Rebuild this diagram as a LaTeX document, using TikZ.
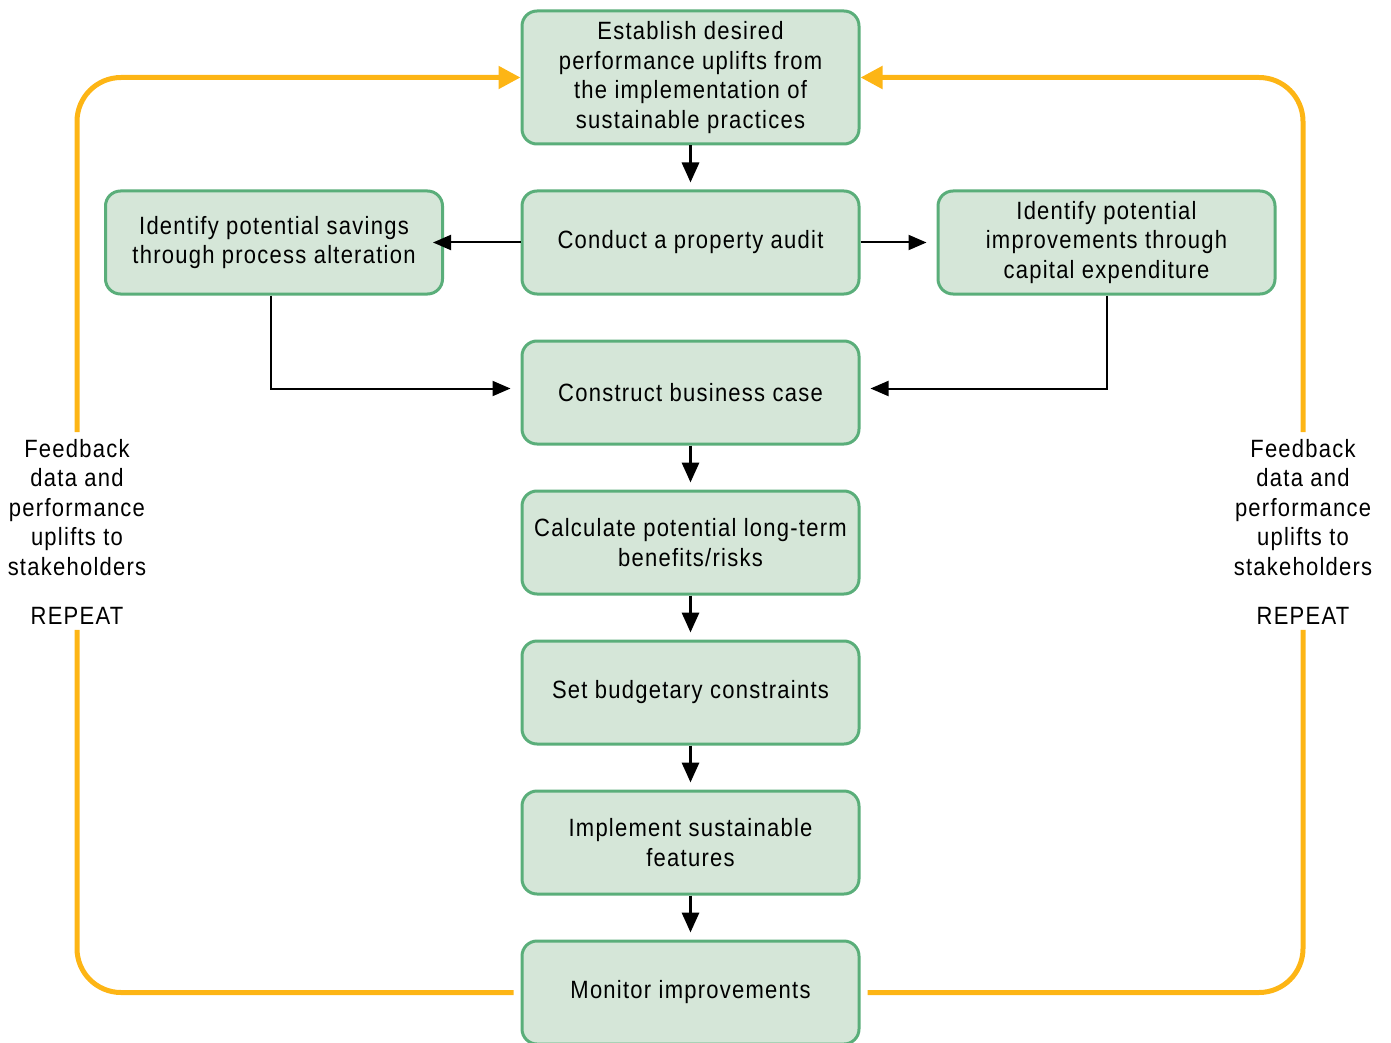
\documentclass[tikz,border=0pt]{standalone}
\usepackage{fontspec}
\setmainfont{Liberation Sans}[FakeStretch=0.88,LetterSpace=5]
\usetikzlibrary{arrows.meta}
\definecolor{boxfill}{HTML}{D5E6D8}
\definecolor{boxline}{HTML}{5AAE7A}
\definecolor{loopgold}{HTML}{FDB515}
\tikzset{
    stepbox/.style={draw=boxline, fill=boxfill, line width=1.5pt, rounded corners=7.5pt,
        minimum width=168.5pt, minimum height=51.5pt, align=center, inner sep=2pt,
        font=\fontsize{12.5}{14.7}\selectfont},
    flow/.style={line width=1.6pt, -{Triangle[length=10pt,width=8.5pt]}, shorten >=3.5pt},
    side/.style={line width=1pt, -{Triangle[length=9pt,width=7.5pt]}},
    feedback/.style={loopgold, line width=2.5pt, rounded corners=22pt},
    fblabel/.style={align=center, inner sep=0pt, font=\fontsize{12.5}{14.7}\selectfont}
}
\begin{document}
\begin{tikzpicture}[x=0.5pt,y=-0.5pt]
        \useasboundingbox (0,0) rectangle (1391,1043);

        \node[stepbox, minimum height=66.5pt] (goal) at (690.5,77.5) {Establish desired\\performance uplifts from\\the implementation of\\sustainable practices};
        \node[stepbox] (audit) at (690.5,242.5) {Conduct a property audit};
        \node[stepbox] (savings) at (274,242.5) {Identify potential savings\\through process alteration};
        \node[stepbox] (capex) at (1106.5,242.5) {Identify potential\\improvements through\\capital expenditure};
        \node[stepbox] (case) at (690.5,392.5) {Construct business case};
        \node[stepbox] (calc) at (690.5,542.5) {Calculate potential long-term\\benefits/risks};
        \node[stepbox] (budget) at (690.5,692.5) {Set budgetary constraints};
        \node[stepbox] (impl) at (690.5,842.5) {Implement sustainable\\features};
        \node[stepbox] (mon) at (690.5,992.5) {Monitor improvements};

        \node[fblabel] (fbl) at (77,532) {Feedback\\data and\\performance\\uplifts to\\stakeholders\\[10pt]REPEAT};
        \node[fblabel] (fbr) at (1303,532) {Feedback\\data and\\performance\\uplifts to\\stakeholders\\[10pt]REPEAT};

        % main column
        \draw[flow] (goal) -- (audit);
        \draw[flow] (case) -- (calc);
        \draw[flow] (calc) -- (budget);
        \draw[flow] (budget) -- (impl);
        \draw[flow] (impl) -- (mon);

        % side branches
        \draw[side] (audit.west) -- ([xshift=-5.5pt]savings.east);
        \draw[side] (audit.east) -- ([xshift=-5pt]capex.west);
        \draw[side] ([xshift=-1.5pt]savings.south) |- ([xshift=-5pt,yshift=2pt]case.west);
        \draw[side] (capex.south) |- ([xshift=5pt,yshift=2pt]case.east);

        % feedback loops
        \draw[feedback] ([xshift=-3.5pt]mon.west) -| ([yshift=-2.5pt]fbl.south);
        \draw[feedback, -{Triangle[length=11pt,width=11pt]}] ([yshift=3.5pt]fbl.north) |- (goal.west);
        \draw[feedback] ([xshift=3.5pt]mon.east) -| ([yshift=-2.5pt]fbr.south);
        \draw[feedback, -{Triangle[length=11pt,width=11pt]}] ([yshift=3.5pt]fbr.north) |- (goal.east);
\end{tikzpicture}
\end{document}
